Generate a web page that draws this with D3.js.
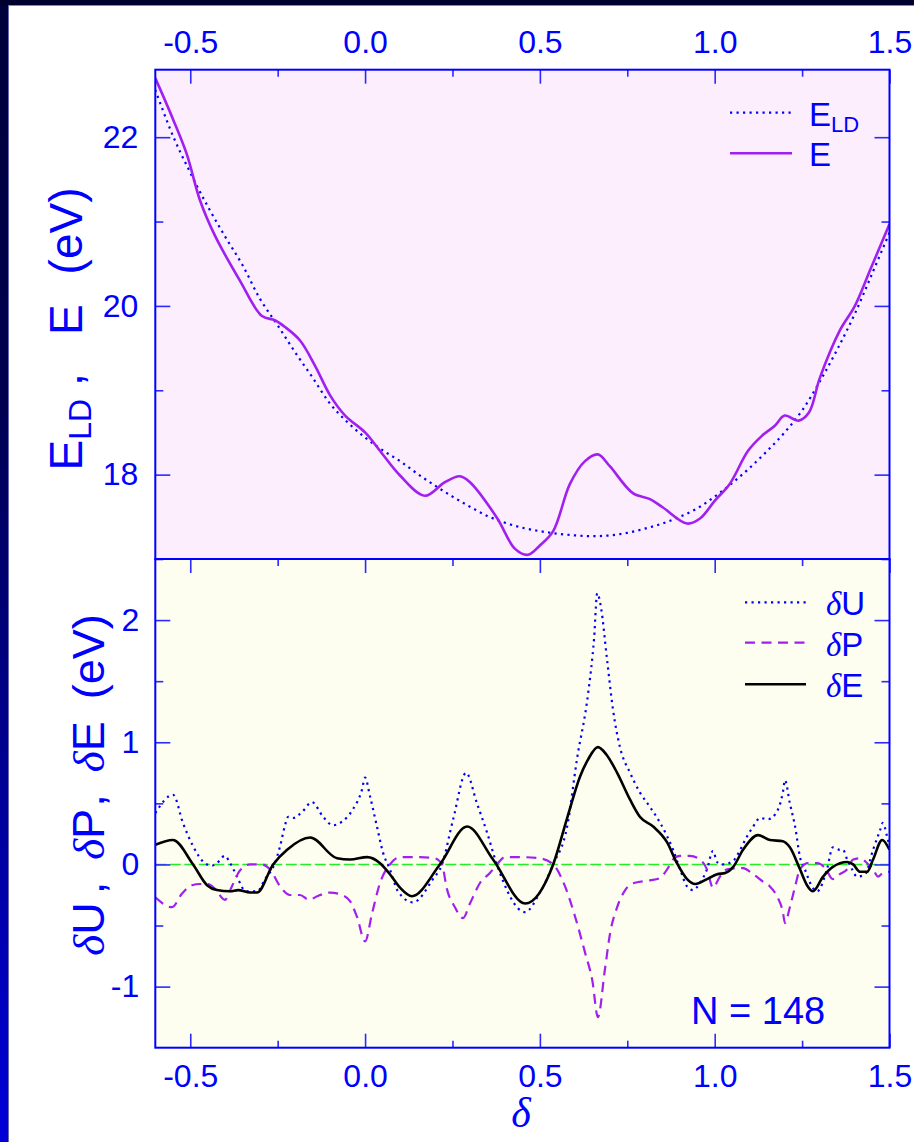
<!DOCTYPE html>
<html>
<head>
<meta charset="utf-8">
<script src="https://cdn.jsdelivr.net/npm/d3@7"></script>
<style>
  html, body { margin: 0; padding: 0; background: #ffffff; }
  svg { display: block; }
</style>
</head>
<body>
<svg id="chart" width="914" height="1142"></svg>
<script>
// ---- data ---------------------------------------------------------------
// Upper panel: local-density energy E_LD and total energy E versus delta
const ldDelta  = [-0.6,-0.55,-0.5,-0.45,-0.4,-0.35,-0.3,-0.25,-0.2,-0.15,-0.1,-0.05,0,0.05,0.1,0.15,0.2,0.25,0.3,0.35,0.4,0.45,0.5,0.55,0.6,0.65,0.7,0.75,0.8,0.85,0.9,0.95,1.0,1.05,1.1,1.15,1.2,1.25,1.3,1.35,1.4,1.45,1.5];
const ldEnergy = [22.56,22.02,21.58,21.18,20.82,20.48,20.08,19.77,19.45,19.15,18.84,18.62,18.44,18.29,18.16,18.01,17.87,17.74,17.62,17.51,17.43,17.37,17.33,17.30,17.28,17.27,17.28,17.31,17.36,17.42,17.50,17.60,17.74,17.90,18.08,18.28,18.50,18.76,19.10,19.48,19.90,20.38,20.87];

const eDelta  = [-0.6,-0.55,-0.51,-0.472,-0.429,-0.358,-0.295,-0.258,-0.229,-0.186,-0.143,-0.1,-0.057,0,0.043,0.1,0.171,0.228,0.271,0.3,0.377,0.429,0.466,0.5,0.538,0.586,0.629,0.666,0.7,0.766,0.815,0.852,0.921,0.958,1.0,1.043,1.095,1.135,1.172,1.2,1.24,1.27,1.301,1.358,1.401,1.444,1.5];
const eEnergy = [22.70,22.22,21.80,21.25,20.83,20.30,19.88,19.83,19.75,19.59,19.29,18.94,18.70,18.50,18.28,17.99,17.75,17.91,17.98,17.91,17.49,17.12,17.05,17.16,17.33,17.89,18.16,18.24,18.10,17.78,17.71,17.61,17.42,17.48,17.69,17.89,18.28,18.46,18.58,18.70,18.64,18.74,19.15,19.71,20.00,20.42,20.97];

// Lower panel: deviations dU, dP and dE
const duDelta = [-0.6,-0.549,-0.521,-0.492,-0.458,-0.438,-0.424,-0.401,-0.386,-0.366,-0.349,-0.338,-0.309,-0.286,-0.258,-0.243,-0.229,-0.22,-0.206,-0.18,-0.152,-0.12,-0.092,-0.066,-0.035,-0.009,0,0.014,0.034,0.051,0.071,0.094,0.137,0.194,0.22,0.252,0.289,0.32,0.349,0.377,0.458,0.5,0.538,0.578,0.606,0.638,0.655,0.664,0.675,0.692,0.709,0.729,0.758,0.786,0.815,0.844,0.864,0.881,0.901,0.921,0.938,0.958,0.978,0.995,1.007,1.024,1.053,1.073,1.087,1.11,1.13,1.153,1.173,1.195,1.201,1.215,1.23,1.244,1.258,1.278,1.293,1.321,1.338,1.358,1.367,1.379,1.393,1.407,1.43,1.453,1.473,1.481,1.493,1.5];
const duValue = [0.42,0.57,0.34,0.15,0.01,-0.01,0.01,0.07,0.01,-0.10,-0.20,-0.22,-0.22,-0.12,0.01,0.15,0.32,0.39,0.38,0.43,0.51,0.39,0.32,0.35,0.45,0.61,0.71,0.56,0.31,0.10,-0.04,-0.22,-0.31,-0.12,0.00,0.37,0.75,0.50,0.26,0.00,-0.39,-0.23,0.00,0.31,0.86,1.40,1.85,2.22,2.10,1.68,1.27,0.96,0.75,0.59,0.47,0.34,0.23,0.12,-0.04,-0.18,-0.21,-0.15,-0.04,0.11,0.02,0.00,0.03,0.12,0.20,0.31,0.38,0.37,0.41,0.59,0.69,0.50,0.31,0.06,-0.04,-0.18,-0.22,-0.04,0.14,0.12,0.12,0.04,-0.04,-0.10,-0.08,0.12,0.28,0.34,0.23,0.15];

const dpDelta = [-0.6,-0.552,-0.524,-0.495,-0.472,-0.449,-0.429,-0.401,-0.381,-0.358,-0.329,-0.295,-0.272,-0.243,-0.215,-0.186,-0.16,-0.137,-0.1,-0.066,-0.043,-0.023,0,0.02,0.043,0.071,0.1,0.157,0.2,0.22,0.234,0.257,0.28,0.3,0.329,0.357,0.377,0.4,0.443,0.5,0.538,0.572,0.601,0.629,0.65,0.666,0.686,0.701,0.721,0.744,0.772,0.815,0.844,0.864,0.881,0.901,0.929,0.958,0.978,0.995,1.015,1.035,1.081,1.11,1.138,1.158,1.178,1.195,1.201,1.215,1.23,1.244,1.267,1.293,1.316,1.338,1.358,1.379,1.396,1.416,1.436,1.453,1.467,1.481,1.5];
const dpValue = [-0.27,-0.35,-0.24,-0.17,-0.16,-0.16,-0.20,-0.29,-0.18,-0.05,0.00,0.00,-0.04,-0.18,-0.25,-0.25,-0.29,-0.26,-0.23,-0.25,-0.30,-0.43,-0.63,-0.40,-0.15,0.00,0.06,0.06,0.05,0.00,-0.20,-0.35,-0.44,-0.32,-0.15,-0.07,0.00,0.06,0.06,0.05,0.00,-0.18,-0.43,-0.72,-0.95,-1.25,-0.86,-0.56,-0.35,-0.21,-0.15,-0.13,-0.11,-0.04,0.04,0.07,0.07,0.04,-0.04,-0.19,-0.10,-0.04,-0.03,-0.08,-0.14,-0.18,-0.26,-0.39,-0.48,-0.35,-0.18,-0.04,0.01,0.01,-0.03,-0.12,-0.08,-0.04,0.04,0.05,0.01,-0.04,-0.10,-0.07,-0.06];

const deDelta = [-0.6,-0.55,-0.492,-0.452,-0.424,-0.386,-0.363,-0.329,-0.309,-0.263,-0.223,-0.157,-0.08,-0.043,0.006,0.043,0.071,0.1,0.134,0.214,0.292,0.366,0.458,0.538,0.578,0.615,0.638,0.666,0.69,0.721,0.758,0.786,0.824,0.864,0.892,0.921,0.944,0.978,1.007,1.03,1.053,1.081,1.124,1.158,1.195,1.215,1.244,1.264,1.281,1.31,1.338,1.379,1.396,1.416,1.436,1.453,1.479,1.5];
const deValue = [0.16,0.20,0.00,-0.17,-0.21,-0.22,-0.21,-0.23,-0.23,0.00,0.12,0.22,0.05,0.04,0.06,0.01,-0.08,-0.19,-0.26,0.00,0.31,0.04,-0.32,0.00,0.38,0.72,0.86,0.96,0.90,0.75,0.53,0.39,0.31,0.18,0.01,-0.12,-0.16,-0.12,-0.08,-0.07,-0.02,0.12,0.24,0.20,0.19,0.14,-0.04,-0.17,-0.22,-0.10,-0.02,0.02,0.00,-0.06,-0.06,0.04,0.20,0.12];

// Tick values
const xMajorTicks = [-0.5, 0, 0.5, 1.0, 1.5];
const xMinorTicks = [-0.25, 0.25, 0.75, 1.25];
const eMajorTicks = [18, 20, 22];
const eMinorTicks = [17, 19, 21];
const dMajorTicks = [-1, 0, 1, 2];
const dMinorTicks = [-0.5, 0.5, 1.5];

const sampleSize = 148;

// ---- layout ----------------------------------------------------------
const W = 914, H = 1142;
const plotLeft = 155.3, plotRight = 889.5;
const topPanelTop = 69.7, panelSplit = 559, bottomPanelBottom = 1047.7;

const SANS = "'Liberation Sans', Arial, Helvetica, sans-serif";
const SERIF = "'Liberation Serif', 'Times New Roman', serif";
const BLUE = "#0000ff";
const TICK = "#2a2aff";
const PURPLE = "#a020f0";

const svg = d3.select("#chart");

// frame decoration: dark top band and a left band fading to blue
const defs = svg.append("defs");
const grad = defs.append("linearGradient").attr("id", "sideBand")
  .attr("x1", 0).attr("y1", 0).attr("x2", 0).attr("y2", 1);
grad.append("stop").attr("offset", "0%").attr("stop-color", "#00003a");
grad.append("stop").attr("offset", "35%").attr("stop-color", "#000050");
grad.append("stop").attr("offset", "100%").attr("stop-color", "#0000d8");

svg.append("rect").attr("x", 0).attr("y", 0).attr("width", W).attr("height", H).attr("fill", "#ffffff");
svg.append("rect").attr("x", 0).attr("y", 0).attr("width", 8).attr("height", H).attr("fill", "url(#sideBand)");
svg.append("rect").attr("x", 0).attr("y", 0).attr("width", W).attr("height", 5).attr("fill", "#00002e");
svg.append("line").attr("x1", 8).attr("x2", W).attr("y1", 5.5).attr("y2", 5.5)
  .attr("stroke", "#8a8aa8").attr("stroke-width", 1);
svg.append("line").attr("x1", 8.5).attr("x2", 8.5).attr("y1", 5).attr("y2", H)
  .attr("stroke", "#6a6ab0").attr("stroke-width", 1);

// ---- scales -----------------------------------------------------------
const x = d3.scaleLinear().domain([-0.6, 1.5]).range([plotLeft, plotRight]);
const yTop = d3.scaleLinear().domain([17, 22.8]).range([panelSplit, topPanelTop]);
const yBot = d3.scaleLinear().domain([-1.5, 2.5]).range([bottomPanelBottom, panelSplit]);

// panel backgrounds
svg.append("rect").attr("x", plotLeft).attr("y", topPanelTop)
  .attr("width", plotRight - plotLeft).attr("height", panelSplit - topPanelTop).attr("fill", "#fdeefd");
svg.append("rect").attr("x", plotLeft).attr("y", panelSplit)
  .attr("width", plotRight - plotLeft).attr("height", bottomPanelBottom - panelSplit).attr("fill", "#fefef0");

defs.append("clipPath").attr("id", "clipTop").append("rect")
  .attr("x", plotLeft).attr("y", topPanelTop).attr("width", plotRight - plotLeft).attr("height", panelSplit - topPanelTop);
defs.append("clipPath").attr("id", "clipBot").append("rect")
  .attr("x", plotLeft).attr("y", panelSplit).attr("width", plotRight - plotLeft).attr("height", bottomPanelBottom - panelSplit);

const zip = (xs, ys) => xs.map((d, i) => [d, ys[i]]);

// ---- upper panel curves ----------------------------------------------
const topG = svg.append("g").attr("clip-path", "url(#clipTop)");
const lineTop = d3.line().x(d => x(d[0])).y(d => yTop(d[1])).curve(d3.curveCatmullRom.alpha(0.5));

topG.append("path").datum(zip(ldDelta, ldEnergy)).attr("d", lineTop)
  .attr("fill", "none").attr("stroke", BLUE).attr("stroke-width", 2.2).attr("stroke-dasharray", "2.2,4.3");
topG.append("path").datum(zip(eDelta, eEnergy)).attr("d", lineTop)
  .attr("fill", "none").attr("stroke", PURPLE).attr("stroke-width", 2.6).attr("stroke-linejoin", "round");

// ---- lower panel curves ----------------------------------------------
const botG = svg.append("g").attr("clip-path", "url(#clipBot)");
const lineBot = d3.line().x(d => x(d[0])).y(d => yBot(d[1])).curve(d3.curveMonotoneX);

botG.append("line").attr("x1", plotLeft).attr("x2", plotRight).attr("y1", yBot(0)).attr("y2", yBot(0))
  .attr("stroke", "#22ee22").attr("stroke-width", 1.6).attr("stroke-dasharray", "11,3.5");
botG.append("path").datum(zip(duDelta, duValue)).attr("d", lineBot)
  .attr("fill", "none").attr("stroke", BLUE).attr("stroke-width", 2.2).attr("stroke-dasharray", "2.2,4.3");
botG.append("path").datum(zip(dpDelta, dpValue)).attr("d", lineBot)
  .attr("fill", "none").attr("stroke", PURPLE).attr("stroke-width", 2.2).attr("stroke-dasharray", "10,6.5");
botG.append("path").datum(zip(deDelta, deValue)).attr("d", lineBot)
  .attr("fill", "none").attr("stroke", "#000000").attr("stroke-width", 2.6).attr("stroke-linejoin", "round");

// ---- axes -------------------------------------------------------------
const fmtX = d => d.toFixed(1);
const fmtY = d => String(d);

function styleAxis(g, withText) {
  g.select(".domain").remove();
  g.selectAll(".tick line").attr("stroke", TICK).attr("stroke-width", 1.6);
  g.selectAll(".tick text").attr("fill", BLUE).attr("font-size", 32).attr("font-family", SANS);
  if (!withText) g.selectAll(".tick text").remove();
}

function addAxis(axis, tx, ty, withText) {
  const g = svg.append("g").attr("transform", `translate(${tx},${ty})`).call(axis);
  styleAxis(g, withText);
  return g;
}

// upper panel: labelled top axis, left axis, plain right axis
addAxis(d3.axisTop(x).tickValues(xMajorTicks).tickSize(-14).tickPadding(16.5).tickFormat(fmtX), 0, topPanelTop, true);
addAxis(d3.axisTop(x).tickValues(xMinorTicks).tickSize(-7).tickFormat(""), 0, topPanelTop, false);
addAxis(d3.axisLeft(yTop).tickValues(eMajorTicks).tickSize(-15).tickPadding(17).tickFormat(fmtY), plotLeft, 0, true);
addAxis(d3.axisLeft(yTop).tickValues(eMinorTicks).tickSize(-8).tickFormat(""), plotLeft, 0, false);
addAxis(d3.axisRight(yTop).tickValues(eMajorTicks).tickSize(-15).tickFormat(""), plotRight, 0, false);
addAxis(d3.axisRight(yTop).tickValues(eMinorTicks).tickSize(-8).tickFormat(""), plotRight, 0, false);

// lower panel: ticks on the shared top edge, labelled bottom and left axes
addAxis(d3.axisTop(x).tickValues(xMajorTicks).tickSize(-14).tickFormat(""), 0, panelSplit, false);
addAxis(d3.axisTop(x).tickValues(xMinorTicks).tickSize(-7).tickFormat(""), 0, panelSplit, false);
addAxis(d3.axisBottom(x).tickValues(xMajorTicks).tickSize(-14).tickPadding(17).tickFormat(fmtX), 0, bottomPanelBottom, true);
addAxis(d3.axisBottom(x).tickValues(xMinorTicks).tickSize(-7).tickFormat(""), 0, bottomPanelBottom, false);
addAxis(d3.axisLeft(yBot).tickValues(dMajorTicks).tickSize(-15).tickPadding(16).tickFormat(fmtY), plotLeft, 0, true);
addAxis(d3.axisLeft(yBot).tickValues(dMinorTicks).tickSize(-8).tickFormat(""), plotLeft, 0, false);
addAxis(d3.axisRight(yBot).tickValues(dMajorTicks).tickSize(-15).tickFormat(""), plotRight, 0, false);
addAxis(d3.axisRight(yBot).tickValues(dMinorTicks).tickSize(-8).tickFormat(""), plotRight, 0, false);

// panel frames
[[topPanelTop, panelSplit], [panelSplit, bottomPanelBottom]].forEach(([y0, y1]) => {
  svg.append("rect").attr("x", plotLeft).attr("y", y0)
    .attr("width", plotRight - plotLeft).attr("height", y1 - y0)
    .attr("fill", "none").attr("stroke", BLUE).attr("stroke-width", 2);
});

// ---- legends ----------------------------------------------------------
function legendLine(y, stroke, width, dash) {
  const l = svg.append("line").attr("x1", 730).attr("x2", 792).attr("y1", y).attr("y2", y)
    .attr("stroke", stroke).attr("stroke-width", width);
  if (dash) l.attr("stroke-dasharray", dash);
  return l;
}
legendLine(112.7, BLUE, 2.2, "2.2,4.3");
legendLine(153.3, PURPLE, 2.6);

const tLD = svg.append("text").attr("x", 809).attr("y", 125.5)
  .attr("fill", BLUE).attr("font-family", SANS).attr("font-size", 33);
tLD.append("tspan").text("E");
tLD.append("tspan").attr("font-size", 22).attr("dy", 6).text("LD");
svg.append("text").attr("x", 809).attr("y", 166)
  .attr("fill", BLUE).attr("font-family", SANS).attr("font-size", 33).text("E");

function deltaLabel(sel, letter) {
  sel.append("tspan").attr("font-family", SERIF).attr("font-style", "italic").text("δ");
  sel.append("tspan").attr("font-family", SANS).text(letter);
}
const lowLegend = [
  { y: 602.3, stroke: BLUE, w: 2.2, dash: "2.2,4.3", letter: "U", base: 615 },
  { y: 642.7, stroke: PURPLE, w: 2.2, dash: "10,6.5", letter: "P", base: 655.5 },
  { y: 684.3, stroke: "#000000", w: 2.6, dash: null, letter: "E", base: 697 }
];
lowLegend.forEach(d => {
  svg.append("line").attr("x1", 745).attr("x2", 806).attr("y1", d.y).attr("y2", d.y)
    .attr("stroke", d.stroke).attr("stroke-width", d.w).attr("stroke-dasharray", d.dash);
  const t = svg.append("text").attr("x", 826).attr("y", d.base).attr("fill", BLUE).attr("font-size", 33);
  deltaLabel(t, d.letter);
});

svg.append("text").attr("x", 691).attr("y", 1024).attr("fill", BLUE)
  .attr("font-family", SANS).attr("font-size", 38).text(`N = ${sampleSize}`);

// ---- axis titles ------------------------------------------------------
const titleTop = svg.append("text").attr("transform", "translate(82,329) rotate(-90)")
  .attr("text-anchor", "middle").attr("fill", BLUE).attr("font-family", SANS).attr("font-size", 46);
titleTop.append("tspan").text("E");
titleTop.append("tspan").attr("font-size", 32).attr("dy", 9).text("LD");
titleTop.append("tspan").attr("dy", -9).attr("dx", 13).text(",");
titleTop.append("tspan").attr("dx", 38).text("E");
titleTop.append("tspan").attr("dx", 30).text("(eV)");

const titleBot = svg.append("text").attr("transform", "translate(104,785) rotate(-90)")
  .attr("text-anchor", "middle").attr("fill", BLUE).attr("font-size", 45);
deltaLabel(titleBot, "U");
titleBot.append("tspan").attr("font-family", SANS).attr("dx", 8).text(",");
titleBot.append("tspan").attr("dx", 22).attr("font-family", SERIF).attr("font-style", "italic").text("δ");
titleBot.append("tspan").attr("font-family", SANS).text("P");
titleBot.append("tspan").attr("font-family", SANS).attr("dx", 8).text(",");
titleBot.append("tspan").attr("dx", 22).attr("font-family", SERIF).attr("font-style", "italic").text("δ");
titleBot.append("tspan").attr("font-family", SANS).text("E");
titleBot.append("tspan").attr("font-family", SANS).attr("dx", 22).text("(eV)");

svg.append("text").attr("x", 521).attr("y", 1127).attr("text-anchor", "middle")
  .attr("fill", BLUE).attr("font-family", SERIF).attr("font-style", "italic").attr("font-size", 42).text("δ");
</script>
</body>
</html>
